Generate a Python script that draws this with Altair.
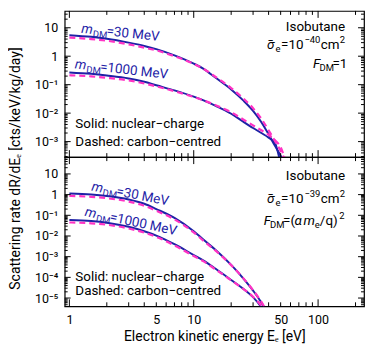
import math
import altair as alt
import pandas as pd

# ---------------- data ----------------
E_TOP = [1, 1.5, 2, 3, 4, 5, 7, 10, 12, 15, 20, 25, 30, 35, 40, 45, 50, 55]
TOP_M30_NUC = [5.5, 4.8, 4.1, 3.0, 2.3, 1.78, 1.07, 0.55, 0.36, 0.174, 0.068, 0.028,
               0.012, 4.8e-3, 1.8e-3, 7.1e-4, 3.2e-4, 1.26e-4]
TOP_M30_CAR = [4.5, 4.0, 3.5, 2.6, 2.0, 1.6, 1.0, 0.54, 0.36, 0.186, 0.076, 0.033,
               0.0148, 6.3e-3, 2.5e-3, 1.05e-3, 4.7e-4, 2.0e-4]
TOP_M1000_NUC = [0.27, 0.24, 0.21, 0.166, 0.126, 0.095, 0.063, 0.038, 0.028, 0.018,
                 9.5e-3, 5.0e-3, 3.0e-3, 2.0e-3, 1.38e-3, 8.9e-4, 1.8e-4, 5e-5]
TOP_M1000_CAR = [0.214, 0.195, 0.174, 0.141, 0.11, 0.087, 0.059, 0.037, 0.028, 0.019,
                 0.0107, 6.0e-3, 3.7e-3, 2.5e-3, 1.74e-3, 1.12e-3, 6.3e-4, 2.0e-4]

E_BOT = [1, 1.5, 2, 3, 4, 5, 7, 10, 12, 15, 20, 25, 30, 35, 38]
BOT_M30_NUC = [1.12, 1.0, 0.85, 0.58, 0.36, 0.2, 0.075, 0.017, 6.5e-3, 2.1e-3, 4e-4,
               9e-5, 2.3e-5, 6e-6, 2.5e-6]
BOT_M30_CAR = [0.87, 0.78, 0.67, 0.46, 0.29, 0.165, 0.063, 0.015, 5.8e-3, 1.95e-3,
               3.9e-4, 9.2e-5, 2.4e-5, 6.5e-6, 2.8e-6]
BOT_M1000_NUC = [0.059, 0.053, 0.044, 0.028, 0.017, 0.0105, 4e-3, 1.2e-3, 6.5e-4,
                 2.6e-4, 7.5e-5, 2.8e-5, 1.1e-5, 3.5e-6, 1.5e-6]
BOT_M1000_CAR = [0.045, 0.041, 0.035, 0.023, 0.0145, 9e-3, 3.5e-3, 1.07e-3, 5.9e-4,
                 2.4e-4, 7.2e-5, 2.8e-5, 1.15e-5, 4e-6, 1.7e-6]

X_TICK_LABELS = [1, 5, 10, 50, 100]
Y_TOP_LABELS = [10, 1, 0.1, 0.01, 0.001]
Y_BOT_LABELS = [10, 1, 0.1, 0.01, 0.001, 0.0001, 0.00001]

# ---------------- styles / layout ----------------
BLUE = "#1e22a6"
PINK = "#ff33c4"
FONT = "Roboto"
W = 301
H_TOP = 147
H_BOT = 150
X_DOM = [0.917, 234]
Y_TOP_DOM = [2.85e-4, 39]
Y_BOT_DOM = [4e-6, 65]
FS = 13.5
SUB = 9.5

SUPMAP = str.maketrans("-0123456789", "⁻⁰¹²³⁴⁵⁶⁷⁸⁹")


def ylab_expr(vals):
    expr = "''"
    for v in vals:
        e = round(math.log10(v))
        s = "1" if e == 0 else ("10" if e == 1 else "10" + str(e).translate(SUPMAP))
        expr = f"abs(log(datum.value)/LN10 - ({e})) < 0.01 ? '{s}' : " + expr
    return expr


def log_ticks(lo, hi):
    major, minor = [], []
    for k in range(math.floor(math.log10(lo)), math.ceil(math.log10(hi)) + 1):
        for m in range(1, 10):
            v = m * 10.0 ** k
            if lo <= v <= hi:
                (major if m == 1 else minor).append(v)
    return major, minor


def panel(E, nuc, car, ydom, H, yaxis, xaxis, texts):
    xs = alt.Scale(type="log", domain=X_DOM)
    ys = alt.Scale(type="log", domain=ydom)

    def X(f):
        return alt.X(f, type="quantitative", scale=xs, axis=xaxis)

    def Y(f):
        return alt.Y(f, type="quantitative", scale=ys, axis=yaxis)

    def long(series):
        rows = []
        for name, vals in series.items():
            for e, r in zip(E, vals):
                rows.append({"E": e, "R": r, "s": name})
        return pd.DataFrame(rows)

    layers = []
    layers.append(
        alt.Chart(long(nuc)).mark_line(clip=True, color=BLUE, strokeWidth=2,
                                       interpolate="monotone")
        .encode(x=X("E"), y=Y("R"), detail="s:N"))
    layers.append(
        alt.Chart(long(car)).mark_line(clip=True, color=PINK, strokeWidth=2.2,
                                       strokeDash=[6, 4], interpolate="monotone")
        .encode(x=X("E"), y=Y("R"), detail="s:N"))

    xmaj, xmin = log_ticks(*X_DOM)
    ymaj, ymin = log_ticks(*ydom)
    for vals, L in ((xmaj, 7), (xmin, 4)):
        d = pd.DataFrame({"v": vals})
        layers.append(alt.Chart(d).mark_rule(color="black", strokeWidth=1)
                      .encode(x=X("v"), y=alt.value(H), y2=alt.value(H - L)))
        layers.append(alt.Chart(d).mark_rule(color="black", strokeWidth=1)
                      .encode(x=X("v"), y=alt.value(0), y2=alt.value(L)))
    for vals, L in ((ymaj, 6), (ymin, 3)):
        d = pd.DataFrame({"v": vals})
        layers.append(alt.Chart(d).mark_rule(color="black", strokeWidth=1)
                      .encode(y=Y("v"), x=alt.value(0), x2=alt.value(L)))
        layers.append(alt.Chart(d).mark_rule(color="black", strokeWidth=1)
                      .encode(y=Y("v"), x=alt.value(W), x2=alt.value(W - L)))

    for (e, r, angle, color, align, pieces) in texts:
        d = pd.DataFrame({"E": [e], "R": [r]})
        for (t, dx, dy, size, style) in pieces:
            layers.append(
                alt.Chart(d).mark_text(text=t, align=align, baseline="alphabetic",
                                       dx=dx, dy=dy, angle=angle, fontSize=size,
                                       fontStyle=style, font=FONT, color=color)
                .encode(x=X("E"), y=Y("R")))
    return alt.layer(*layers).properties(width=W, height=H)


def mlabel(mass):
    return [("m", 0, 0, FS, "italic"), ("DM", 12, 3, SUB, "normal"),
            ("=" + mass, 25.5, 0, FS, "normal")]


def sigma(exp):
    return [("σ", 0, 0, FS, "italic"), ("¯", 0.5, 0, FS, "normal"),
            ("e", 8.5, 3, SUB, "normal"),
            ("=10", 14, 0, FS, "normal"), (exp, 37.5, -6, SUB, "normal"),
            ("cm", 54, 0, FS, "normal"), ("2", 73, -6, SUB, "normal")]


top_texts = [
    (1.24, 6.7, 6, BLUE, "left", mlabel("30 MeV")),
    (1.1, 0.38, 6.5, BLUE, "left", mlabel("1000 MeV")),
    (1.117, 2.95e-3, 0, "black", "left", [("Solid: nuclear−charge", 0, 0, FS, "normal")]),
    (1.117, 7.2e-4, 0, "black", "left", [("Dashed: carbon−centred", 0, 0, FS, "normal")]),
    (165, 7.7, 0, "black", "right", [("Isobutane", 0, 0, FS, "normal")]),
    (38.9, 1.74, 0, "black", "left", sigma("−40")),
    (91, 0.40, 0, "black", "left", [("F", 0, 0, FS, "italic"), ("DM", 6.5, 3, SUB, "normal"),
                                    ("=1", 19.5, 0, FS, "normal")]),
]
bot_texts = [
    (1.49, 1.6, 11, BLUE, "left", mlabel("30 MeV")),
    (1.32, 0.095, 12, BLUE, "left", mlabel("1000 MeV")),
    (1.117, 6.9e-5, 0, "black", "left", [("Solid: nuclear−charge", 0, 0, FS, "normal")]),
    (1.117, 1.45e-5, 0, "black", "left", [("Dashed: carbon−centred", 0, 0, FS, "normal")]),
    (165, 4.9, 0, "black", "right", [("Isobutane", 0, 0, FS, "normal")]),
    (38.9, 0.41, 0, "black", "left", sigma("−39")),
    (36.5, 0.034, 0, "black", "left", [("F", 0, 0, FS, "italic"), ("DM", 6.5, 3, SUB, "normal"),
                                       ("=(", 19.5, 0, FS, "normal"), ("α", 31, 0, FS, "italic"),
                                       ("m", 40, 0, FS, "italic"), ("e", 51.5, 3, SUB, "normal"),
                                       ("/q)", 56.5, 0, FS, "normal"), ("2", 76, -6, SUB, "normal")]),
]

ax_common = dict(ticks=False, domain=False, grid=False, labelFont=FONT,
                 labelFontSize=12.5, labelColor="black", labelPadding=7)

y_top_axis = alt.Axis(values=Y_TOP_LABELS, labelExpr=ylab_expr(Y_TOP_LABELS),
                      title=None, **ax_common)
y_bot_axis = alt.Axis(values=Y_BOT_LABELS, labelExpr=ylab_expr(Y_BOT_LABELS),
                      title="Scattering rate dR/dEₑ [cts/keV/kg/day]",
                      titleFont=FONT, titleFontSize=14, titleFontWeight="normal",
                      titleColor="black", titleX=-42, titleY=11, titleAngle=270,
                      titleAlign="center", titleBaseline="bottom", **ax_common)
x_bot_axis = alt.Axis(values=X_TICK_LABELS, format="~g", labelFlush=False,
                      title="Electron kinetic energy Eₑ [eV]", titleFont=FONT,
                      titleFontSize=14, titleFontWeight="normal", titleColor="black",
                      titlePadding=4, **ax_common)

top = panel(E_TOP,
            {"m30": TOP_M30_NUC, "m1000": TOP_M1000_NUC},
            {"m30": TOP_M30_CAR, "m1000": TOP_M1000_CAR},
            Y_TOP_DOM, H_TOP, y_top_axis, None, top_texts)
bot = panel(E_BOT,
            {"m30": BOT_M30_NUC, "m1000": BOT_M1000_NUC},
            {"m30": BOT_M30_CAR, "m1000": BOT_M1000_CAR},
            Y_BOT_DOM, H_BOT, y_bot_axis, x_bot_axis, bot_texts)

chart = (alt.vconcat(top, bot, spacing=0, bounds="flush")
         .properties(padding=0)
         .configure_view(stroke="black", strokeWidth=1.2))

chart.save("out.html", embed_options={"renderer": "svg", "actions": False})
